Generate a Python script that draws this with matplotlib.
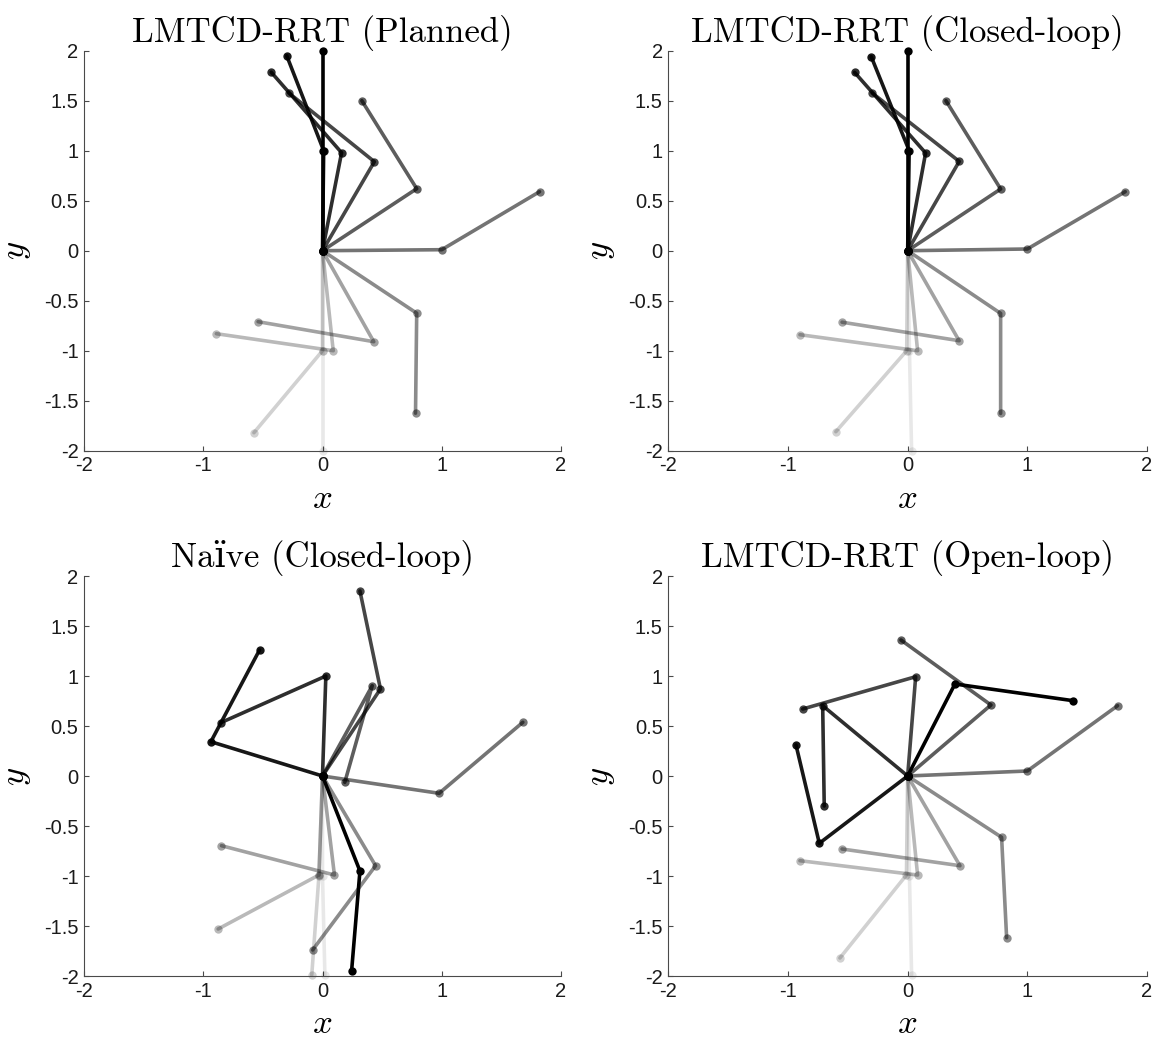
import numpy as np
import matplotlib
matplotlib.use("Agg")
import matplotlib.pyplot as plt
from matplotlib.ticker import FuncFormatter

plt.rcParams['mathtext.fontset'] = 'cm'
plt.rcParams['axes.unicode_minus'] = False

# Two-link pendulum snapshots: elbow (x1, y1) and tip (x2, y2) per frame,
# ordered in time from hanging down to the final pose.
titles = ["LMTCD-RRT (Planned)", "LMTCD-RRT (Closed-loop)",
          "Na\u00efve (Closed-loop)", "LMTCD-RRT (Open-loop)"]

planned_x1 = [0.0, 0.0, 0.09, 0.43, 0.79, 1.0, 0.79, 0.435, 0.16, 0.01, 0.0]
planned_y1 = [-1.0, -1.0, -1.0, -0.91, -0.625, 0.01, 0.62, 0.89, 0.98, 1.0, 1.0]
planned_x2 = [0.0, -0.575, -0.89, -0.54, 0.78, 1.82, 0.33, -0.285, -0.43, -0.30, 0.0]
planned_y2 = [-2.0, -1.82, -0.83, -0.71, -1.625, 0.59, 1.5, 1.58, 1.785, 1.95, 2.0]

closed_x1 = [0.015, -0.008, 0.083, 0.43, 0.777, 1.0, 0.777, 0.431, 0.15, 0.013, 0.0]
closed_y1 = [-1.0, -1.0, -1.0, -0.90, -0.627, 0.017, 0.617, 0.893, 0.977, 1.0, 1.0]
closed_x2 = [0.033, -0.60, -0.90, -0.548, 0.777, 1.818, 0.32, -0.296, -0.443, -0.304, 0.0]
closed_y2 = [-2.0, -1.81, -0.84, -0.715, -1.627, 0.59, 1.5, 1.577, 1.783, 1.94, 2.0]

naive_x1 = [0.0, -0.03, -0.03, 0.10, 0.445, 0.978, 0.417, 0.486, 0.028, -0.936, 0.314]
naive_y1 = [-1.0, -1.0, -0.99, -0.99, -0.897, -0.173, 0.903, 0.87, 1.0, 0.343, -0.95]
naive_x2 = [0.02, -0.09, -0.875, -0.847, -0.083, 1.68, 0.187, 0.314, -0.853, -0.528, 0.244]
naive_y2 = [-1.99, -1.99, -1.53, -0.697, -1.74, 0.537, -0.063, 1.85, 0.533, 1.26, -1.95]

open_x1 = [0.015, -0.01, 0.083, 0.437, 0.785, 1.0, 0.696, 0.067, -0.71, -0.738, 0.395]
open_y1 = [-1.0, -0.99, -0.99, -0.897, -0.613, 0.05, 0.71, 0.993, 0.703, -0.673, 0.92]
open_x2 = [0.033, -0.566, -0.90, -0.548, 0.827, 1.754, -0.056, -0.877, -0.697, -0.933, 1.383]
open_y2 = [-1.99, -1.82, -0.847, -0.73, -1.617, 0.703, 1.36, 0.67, -0.30, 0.31, 0.753]

ticks_x = [-2, -1, 0, 1, 2]
ticks_y = [-2, -1.5, -1, -0.5, 0, 0.5, 1, 1.5, 2]

panels = [
    (planned_x1, planned_y1, planned_x2, planned_y2),
    (closed_x1, closed_y1, closed_x2, closed_y2),
    (naive_x1, naive_y1, naive_x2, naive_y2),
    (open_x1, open_y1, open_x2, open_y2),
]

W, H = 1166, 1042
fig = plt.figure(figsize=(W / 100, H / 100), dpi=100)

# axes boxes in pixels: left, right, top, bottom
boxes = [(84, 561, 50.7, 450.7), (668.3, 1147, 50.7, 450.7),
         (84, 561, 576, 976), (668.3, 1147, 576, 976)]

fmt = FuncFormatter(lambda v, p: f"{v:g}")
axis_col = '#4a4a4a'

for (l, r, t, b), title, (x1, y1, x2, y2) in zip(boxes, titles, panels):
    ax = fig.add_axes([l / W, 1 - b / H, (r - l) / W, (b - t) / H])
    n = len(x1)
    alphas = np.arange(1, n + 1) / n
    for i in range(n):
        ax.plot([0, x1[i], x2[i]], [0, y1[i], y2[i]], '-o', color='black',
                alpha=alphas[i], lw=2.6, ms=6, mew=0, clip_on=False,
                solid_capstyle='round', solid_joinstyle='round')
    ax.set_xlim(-2, 2)
    ax.set_ylim(-2, 2)
    ax.set_xticks(ticks_x)
    ax.set_yticks(ticks_y)
    ax.xaxis.set_major_formatter(fmt)
    ax.yaxis.set_major_formatter(fmt)
    for s in ['top', 'right']:
        ax.spines[s].set_visible(False)
    for s in ['left', 'bottom']:
        ax.spines[s].set_color(axis_col)
        ax.spines[s].set_linewidth(0.8)
    ax.tick_params(direction='in', length=3.5, width=0.8, color=axis_col,
                   labelsize=14.5, labelcolor='#1a1a1a', pad=4)
    for lab in ax.get_xticklabels() + ax.get_yticklabels():
        lab.set_fontfamily('Liberation Sans')
    ax.set_title(title, fontsize=25, family=['cmr10', 'DejaVu Serif'], pad=6)
    ax.set_xlabel('$x$', fontsize=25, labelpad=4)
    ax.set_ylabel('$y$', fontsize=25, labelpad=8)

fig.savefig('out.png', dpi=100)
